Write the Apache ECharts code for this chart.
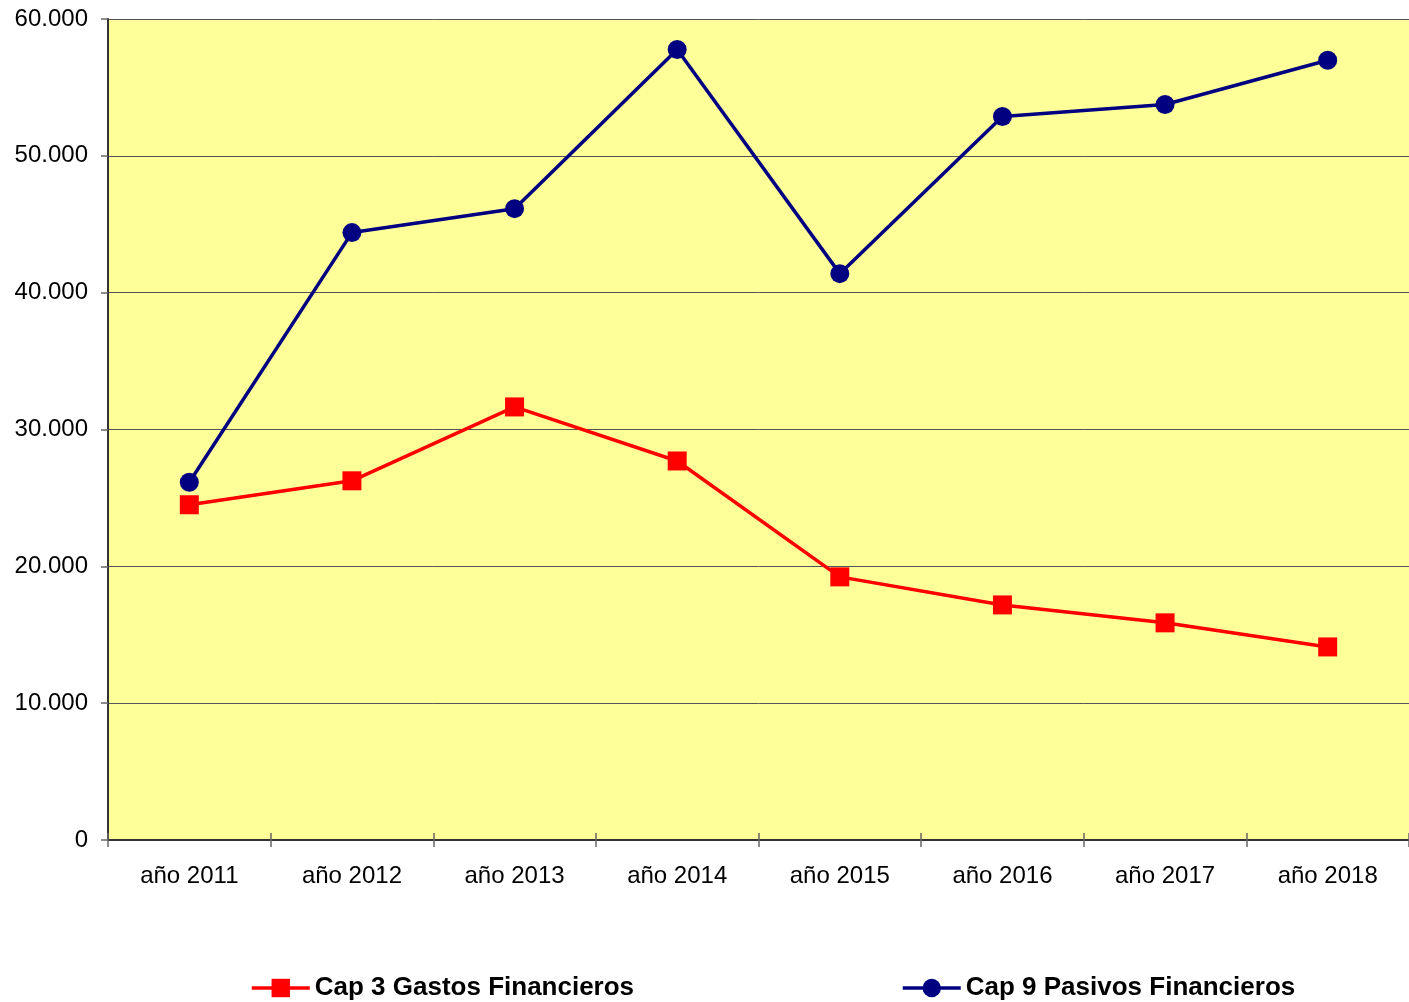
<!DOCTYPE html>
<html>
<head>
<meta charset="utf-8">
<script src="https://cdn.jsdelivr.net/npm/echarts@6/dist/echarts.min.js"></script>
<style>
html, body { margin: 0; padding: 0; background: #fff; }
#chart { width: 1409px; height: 1002px; }
</style>
</head>
<body>
<div id="chart"></div>
<script>
// datos
var years = ['año 2011', 'año 2012', 'año 2013', 'año 2014', 'año 2015', 'año 2016', 'año 2017', 'año 2018'];
var gastos = [24500, 26250, 31650, 27700, 19230, 17180, 15870, 14110];
var pasivos = [26150, 44390, 46140, 57770, 41390, 52870, 53750, 56990];

function miles(v) {
    // 60000 -> 60.000
    return String(v).replace(/\B(?=(\d{3})+(?!\d))/g, '.');
}

var chart = echarts.init(document.getElementById('chart'));
var font = 'Liberation Sans, Arial, sans-serif';

function leyenda(left, name) {
    return {
        left: left,
        top: 975,
        padding: 0,
        itemWidth: 58,
        itemHeight: 23,
        itemGap: 5,
        data: [name],
        lineStyle: { width: 3.5 },
        textStyle: { fontSize: 26, fontWeight: 'bold', color: '#000', fontFamily: font }
    };
}

chart.setOption({
    animation: false,
    backgroundColor: '#fff',
    textStyle: { fontFamily: font },
    legend: [
        leyenda(250, 'Cap 3 Gastos Financieros'),
        leyenda(901, 'Cap 9 Pasivos Financieros')
    ],
    grid: {
        left: 108,
        right: 0,
        top: 19,
        bottom: 162,
        show: true,
        backgroundColor: '#FFFF99',
        borderWidth: 0
    },
    xAxis: [{
        type: 'category',
        data: years,
        boundaryGap: true,
        axisLine: { lineStyle: { color: '#333', width: 2 } },
        axisTick: { show: true, length: 7, lineStyle: { color: '#666', width: 1.5 } },
        axisLabel: { fontSize: 24, color: '#000', margin: 24, fontFamily: font }
    }, {
        type: 'category',
        data: years,
        position: 'bottom',
        boundaryGap: true,
        axisLine: { show: false },
        axisTick: { show: true, inside: true, length: 7, lineStyle: { color: '#666', width: 1.5 } },
        axisLabel: { show: false }
    }],
    yAxis: {
        type: 'value',
        min: 0,
        max: 60000,
        interval: 10000,
        axisLine: { show: true, lineStyle: { color: '#333', width: 2 } },
        axisTick: { show: true, length: 7, lineStyle: { color: '#666', width: 1.5 } },
        axisLabel: { fontSize: 24, color: '#000', margin: 20, formatter: miles, fontFamily: font },
        splitLine: { show: true, lineStyle: { color: '#555', width: 1 } }
    },
    series: [{
        name: 'Cap 3 Gastos Financieros',
        type: 'line',
        data: gastos,
        symbol: 'rect',
        symbolSize: 19,
        itemStyle: { color: '#FF0000' },
        lineStyle: { color: '#FF0000', width: 3.5 }
    }, {
        name: 'Cap 9 Pasivos Financieros',
        type: 'line',
        data: pasivos,
        symbol: 'circle',
        symbolSize: 19,
        itemStyle: { color: '#000080' },
        lineStyle: { color: '#000080', width: 3.5 }
    }]
});
</script>
</body>
</html>
